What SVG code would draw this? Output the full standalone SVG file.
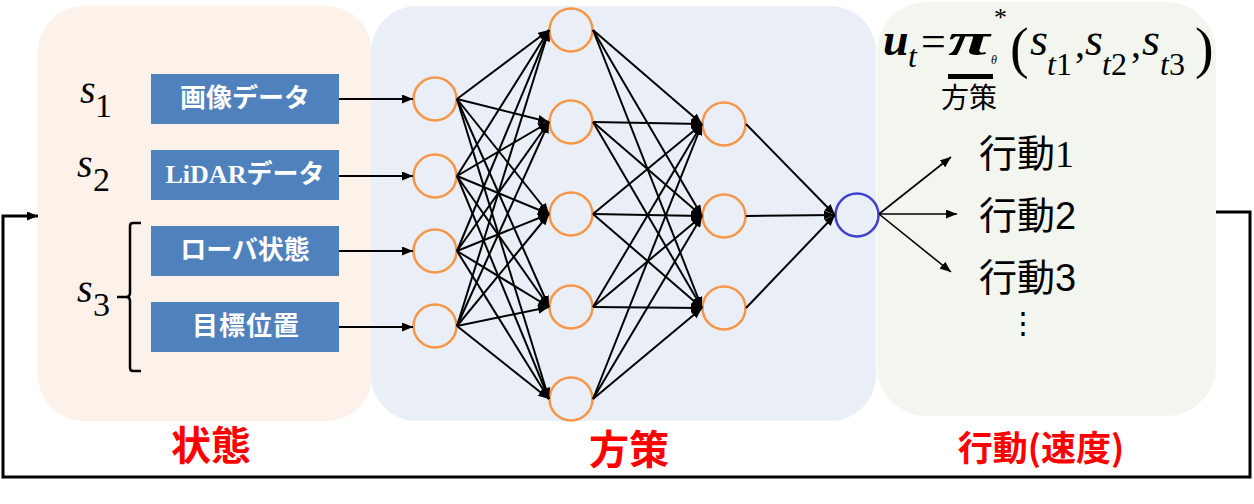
<svg xmlns="http://www.w3.org/2000/svg" width="1254" height="504" viewBox="0 0 1254 504">
  <style>
    .panel-state { fill: #fdf2e9; }
    .panel-policy { fill: #eaeff7; }
    .panel-action { fill: #f3f6ee; }
    .box { fill: #4f81bd; }
    .box-label { fill: #ffffff; font-family: "Noto Sans CJK JP", "Noto Sans", sans-serif; font-weight: 700; font-size: 26px; text-anchor: middle; }
    .serif-b { font-family: "Liberation Serif", serif; font-weight: 700; }
    .neuron { fill: none; stroke: #f79646; stroke-width: 2.5; }
    .neuron-out { fill: none; stroke: #4040d0; stroke-width: 2.5; }
    .edge { stroke: #000; stroke-width: 2; fill: none; marker-end: url(#ah); }
    .edge-thin { stroke: #000; stroke-width: 1.6; fill: none; marker-end: url(#ah); }
    .math { font-family: "Liberation Serif", "Times New Roman", serif; font-style: italic; fill: #000; }
    .up { font-style: normal; }
    .jp { font-family: "Noto Sans CJK JP", sans-serif; fill: #000; }
    .caption { font-family: "Noto Sans CJK JP", sans-serif; font-weight: 700; fill: #ff0000; text-anchor: middle; }
  </style>
  <defs>
    <marker id="ah" markerUnits="userSpaceOnUse" markerWidth="11" markerHeight="9" refX="11" refY="4.5" orient="auto">
      <path d="M0,0 L11,4.5 L0,9 z" fill="#000"/>
    </marker>
  </defs>

  <!-- background panels -->
  <g id="panels">
    <rect class="panel-state" x="38" y="6" width="334" height="415" rx="46" ry="46"/>
    <rect class="panel-policy" x="371" y="6" width="505" height="415" rx="46" ry="46"/>
    <rect class="panel-action" x="877" y="2" width="339" height="414" rx="50" ry="50"/>
  </g>

  <!-- state variables -->
  <g id="state-labels">
    <text class="math" x="80" y="103" font-size="40">s<tspan class="up" x="95" y="117" font-size="34">1</tspan></text>
    <text class="math" x="77" y="177" font-size="40">s<tspan class="up" x="93" y="191" font-size="34">2</tspan></text>
    <text class="math" x="77" y="302" font-size="40">s<tspan class="up" x="93" y="316" font-size="34">3</tspan></text>
    <path d="M141,223 H133 Q130,223 130,226 V293 Q130,297 126,297 H117 M126,297 Q130,297 130,301 V368 Q130,371 133,371 H141" fill="none" stroke="#000" stroke-width="2.5"/>
  </g>

  <g id="box-image">
    <rect class="box" x="151" y="74" width="188" height="50"/>
    <text class="box-label" x="245" y="107">画像データ</text>
  </g>
  <g id="box-lidar">
    <rect class="box" x="151" y="150" width="188" height="50"/>
    <text class="box-label" x="245" y="183"><tspan class="serif-b">LiDAR</tspan>データ</text>
  </g>
  <g id="box-rover">
    <rect class="box" x="151" y="226" width="188" height="50"/>
    <text class="box-label" x="245" y="259">ローバ状態</text>
  </g>
  <g id="box-goal">
    <rect class="box" x="151" y="302" width="188" height="50"/>
    <text class="box-label" x="246" y="335" letter-spacing="1">目標位置</text>
  </g>

  <!-- network neurons -->
  <g id="layer-in">
    <circle class="neuron" cx="435" cy="99" r="21.5"/>
    <circle class="neuron" cx="435" cy="176" r="21.5"/>
    <circle class="neuron" cx="435" cy="251" r="21.5"/>
    <circle class="neuron" cx="435" cy="326" r="21.5"/>
  </g>
  <g id="layer-hidden1">
    <circle class="neuron" cx="571" cy="30" r="21.5"/>
    <circle class="neuron" cx="571" cy="122" r="21.5"/>
    <circle class="neuron" cx="571" cy="214" r="21.5"/>
    <circle class="neuron" cx="571" cy="307" r="21.5"/>
    <circle class="neuron" cx="571" cy="399" r="21.5"/>
  </g>
  <g id="layer-hidden2">
    <circle class="neuron" cx="724" cy="124" r="21.5"/>
    <circle class="neuron" cx="724" cy="216" r="21.5"/>
    <circle class="neuron" cx="724" cy="308" r="21.5"/>
  </g>
  <g id="layer-out">
    <circle class="neuron-out" cx="857" cy="215" r="21.5"/>
  </g>

  <!-- connectors -->
  <g id="connectors">
    <!-- inputs to first layer -->
    <line class="edge" x1="339" y1="99" x2="413" y2="99"/>
    <line class="edge" x1="339" y1="176" x2="413" y2="176"/>
    <line class="edge" x1="339" y1="251" x2="413" y2="251"/>
    <line class="edge" x1="339" y1="327" x2="413" y2="327"/>

    <!-- first layer to hidden layer 1 -->
    <line class="edge" x1="457" y1="99" x2="549" y2="30"/>
    <line class="edge" x1="457" y1="99" x2="549" y2="122"/>
    <line class="edge" x1="457" y1="99" x2="549" y2="214"/>
    <line class="edge" x1="457" y1="99" x2="549" y2="307"/>
    <line class="edge" x1="457" y1="99" x2="549" y2="399"/>
    <line class="edge" x1="457" y1="176" x2="549" y2="30"/>
    <line class="edge" x1="457" y1="176" x2="549" y2="122"/>
    <line class="edge" x1="457" y1="176" x2="549" y2="214"/>
    <line class="edge" x1="457" y1="176" x2="549" y2="307"/>
    <line class="edge" x1="457" y1="176" x2="549" y2="399"/>
    <line class="edge" x1="457" y1="251" x2="549" y2="30"/>
    <line class="edge" x1="457" y1="251" x2="549" y2="122"/>
    <line class="edge" x1="457" y1="251" x2="549" y2="214"/>
    <line class="edge" x1="457" y1="251" x2="549" y2="307"/>
    <line class="edge" x1="457" y1="251" x2="549" y2="399"/>
    <line class="edge" x1="457" y1="326" x2="549" y2="30"/>
    <line class="edge" x1="457" y1="326" x2="549" y2="122"/>
    <line class="edge" x1="457" y1="326" x2="549" y2="214"/>
    <line class="edge" x1="457" y1="326" x2="549" y2="307"/>
    <line class="edge" x1="457" y1="326" x2="549" y2="399"/>

    <!-- hidden layer 1 to hidden layer 2 -->
    <line class="edge" x1="593" y1="30" x2="702" y2="124"/>
    <line class="edge" x1="593" y1="30" x2="702" y2="216"/>
    <line class="edge" x1="593" y1="30" x2="702" y2="308"/>
    <line class="edge" x1="593" y1="122" x2="702" y2="124"/>
    <line class="edge" x1="593" y1="122" x2="702" y2="216"/>
    <line class="edge" x1="593" y1="122" x2="702" y2="308"/>
    <line class="edge" x1="593" y1="214" x2="702" y2="124"/>
    <line class="edge" x1="593" y1="214" x2="702" y2="216"/>
    <line class="edge" x1="593" y1="214" x2="702" y2="308"/>
    <line class="edge" x1="593" y1="307" x2="702" y2="124"/>
    <line class="edge" x1="593" y1="307" x2="702" y2="216"/>
    <line class="edge" x1="593" y1="307" x2="702" y2="308"/>
    <line class="edge" x1="593" y1="399" x2="702" y2="124"/>
    <line class="edge" x1="593" y1="399" x2="702" y2="216"/>
    <line class="edge" x1="593" y1="399" x2="702" y2="308"/>

    <!-- hidden layer 2 to output -->
    <line class="edge" x1="746" y1="124" x2="835" y2="215"/>
    <line class="edge" x1="746" y1="216" x2="835" y2="215"/>
    <line class="edge" x1="746" y1="308" x2="835" y2="215"/>

    <!-- output to actions -->
    <line class="edge-thin" x1="879" y1="214" x2="951" y2="157"/>
    <line class="edge-thin" x1="879" y1="214" x2="957" y2="214"/>
    <line class="edge-thin" x1="879" y1="214" x2="951" y2="272"/>

    <!-- feedback loop from action back to state -->
    <path d="M1216,212 H1250 V477 H3 V216 H38" fill="none" stroke="#000" stroke-width="3" marker-end="url(#ah)"/>
  </g>

  <!-- policy formula: u_t = pi_theta^*(s_t1, s_t2, s_t3) -->
  <g id="formula">
    <text class="math" font-size="46"><tspan x="883" y="55" font-weight="700">u</tspan><tspan x="908" y="67" font-size="32">t</tspan><tspan class="up" x="921" y="56" font-size="44">=</tspan><tspan x="948" y="55" font-size="46" font-weight="700" textLength="42" lengthAdjust="spacingAndGlyphs">π</tspan><tspan x="991" y="64" font-size="12">θ</tspan><tspan class="up" x="994" y="26" font-size="26">*</tspan><tspan class="up" x="1010" y="67" font-size="56">(</tspan><tspan x="1030" y="55">s</tspan><tspan x="1047" y="75" font-size="32">t<tspan class="up">1</tspan></tspan><tspan class="up" x="1075" y="57" font-size="40">,</tspan><tspan x="1085" y="55">s</tspan><tspan x="1102" y="75" font-size="32">t<tspan class="up">2</tspan></tspan><tspan class="up" x="1131" y="57" font-size="40">,</tspan><tspan x="1142" y="55">s</tspan><tspan x="1160" y="75" font-size="32">t<tspan class="up">3</tspan></tspan><tspan class="up" x="1195" y="67" font-size="56">)</tspan></text>
    <rect x="948" y="74" width="45" height="5" fill="#000"/>
    <text class="jp" x="941" y="108" font-size="28">方策</text>
  </g>

  <!-- action list -->
  <g id="actions">
    <text class="jp" x="979" y="167" font-size="38">行動<tspan font-family="Liberation Serif, serif">1</tspan></text>
    <text class="jp" x="979" y="229" font-size="38">行動<tspan font-family="Liberation Sans, sans-serif">2</tspan></text>
    <text class="jp" x="979" y="291" font-size="38">行動<tspan font-family="Liberation Sans, sans-serif">3</tspan></text>
    <text class="jp" x="1023" y="333" font-size="30" text-anchor="middle">⋮</text>
  </g>

  <!-- captions -->
  <g id="captions">
    <text class="caption" x="211" y="460" font-size="40">状態</text>
    <text class="caption" x="629" y="464" font-size="40">方策</text>
    <text class="caption" x="1041" y="461" font-size="35">行動(速度)</text>
  </g>
</svg>
